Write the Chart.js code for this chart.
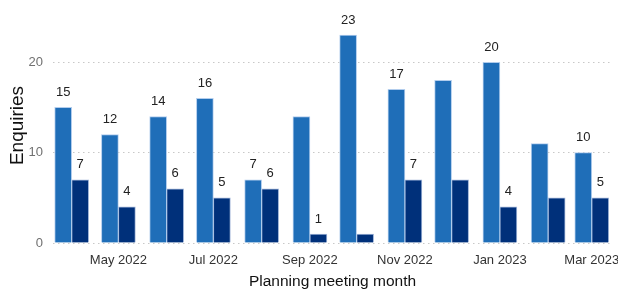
<!DOCTYPE html>
<html>
<head>
<meta charset="utf-8">
<script src="https://cdn.jsdelivr.net/npm/chart.js@4.4.0/dist/chart.umd.min.js"></script>
<style>
  html, body { margin: 0; padding: 0; background: #fff; }
  #wrap { width: 618px; height: 291px; }
</style>
</head>
<body>
<div id="wrap"><canvas id="myChart" width="618" height="291"></canvas></div>
<script>
// months (first day of each month is where the pair of bars sits)
var months = ['2022-04', '2022-05', '2022-06', '2022-07', '2022-08', '2022-09',
              '2022-10', '2022-11', '2022-12', '2023-01', '2023-02', '2023-03'];
var allEnquiries = [15, 12, 14, 16, 7, 14, 23, 17, 18, 20, 11, 10];
var subsetEnquiries = [7, 4, 6, 5, 6, 1, 1, 7, 7, 4, 5, 5];
// which value labels are printed in the picture (1 = shown)
var allLabelShown = [1, 1, 1, 1, 1, 0, 1, 1, 0, 1, 0, 1];
var subsetLabelShown = [1, 1, 1, 1, 1, 1, 0, 1, 0, 1, 0, 1];

var tickMonths = ['2022-05', '2022-07', '2022-09', '2022-11', '2023-01', '2023-03'];
var tickLabels = ['May 2022', 'Jul 2022', 'Sep 2022', 'Nov 2022', 'Jan 2023', 'Mar 2023'];
var yTicks = [0, 10, 20];

// days since 1 Apr 2022
function dayOf(m) {
  var p = m.split('-');
  return (Date.UTC(+p[0], +p[1] - 1, 1) - Date.UTC(2022, 3, 1)) / 86400000;
}

var fontFamily = "'Liberation Sans', Arial, sans-serif";

var valueLabels = {
  id: 'valueLabels',
  afterDatasetsDraw: function (chart) {
    var ctx = chart.ctx;
    var flags = [allLabelShown, subsetLabelShown];
    ctx.save();
    ctx.font = '13px ' + fontFamily;
    ctx.fillStyle = '#222';
    ctx.textAlign = 'center';
    ctx.textBaseline = 'middle';
    chart.data.datasets.forEach(function (ds, di) {
      var meta = chart.getDatasetMeta(di);
      meta.data.forEach(function (bar, i) {
        if (!flags[di][i]) return;
        ctx.fillText(String(ds.data[i].y), bar.x, bar.y - 15);
      });
    });
    ctx.restore();
  }
};

var ctx = document.getElementById('myChart').getContext('2d');
var chart = new Chart(ctx, {
  type: 'bar',
  data: {
    datasets: [
      {
        label: 'All enquiries',
        backgroundColor: '#1f6eb8',
        borderColor: 'rgba(170,200,235,0.9)',
        borderWidth: 1,
        barThickness: 17,
        data: months.map(function (m, i) { return { x: dayOf(m), y: allEnquiries[i] }; })
      },
      {
        label: 'Subset',
        backgroundColor: '#00307a',
        borderColor: 'rgba(120,150,200,0.7)',
        borderWidth: 1,
        barThickness: 17,
        data: months.map(function (m, i) { return { x: dayOf(m), y: subsetEnquiries[i] }; })
      }
    ]
  },
  plugins: [valueLabels],
  options: {
    responsive: false,
    animation: false,
    layout: {
      padding: { left: 0, right: 6, top: 8, bottom: 0 }
    },
    plugins: {
      legend: { display: false },
      tooltip: { enabled: false }
    },
    scales: {
      x: {
        type: 'linear',
        offset: false,
        min: -12,
        max: 347,
        grid: { display: false, drawTicks: false },
        border: { display: false },
        afterBuildTicks: function (scale) {
          scale.ticks = tickMonths.map(function (m) { return { value: dayOf(m) }; });
        },
        afterFit: function (scale) {
          scale.height = 48;
          scale.paddingLeft = 0;
          scale.paddingRight = 0;
        },
        ticks: {
          autoSkip: false,
          maxRotation: 0,
          padding: 10,
          color: '#333',
          font: { family: fontFamily, size: 13 },
          callback: function (v) {
            var idx = tickMonths.map(dayOf).indexOf(v);
            return idx >= 0 ? tickLabels[idx] : '';
          }
        },
        title: {
          display: true,
          text: 'Planning meeting month',
          color: '#111',
          font: { family: fontFamily, size: 15.5 },
          padding: { top: 0, bottom: 0 }
        }
      },
      y: {
        min: 0,
        max: 26,
        afterBuildTicks: function (scale) {
          scale.ticks = yTicks.map(function (v) { return { value: v }; });
        },
        afterFit: function (scale) {
          scale.width = 53;
          scale.paddingTop = 0;
          scale.paddingBottom = 0;
        },
        grid: {
          drawTicks: false,
          color: '#c8c8c8',
          lineWidth: 1
        },
        border: { display: false, dash: [1.5, 3.5] },
        ticks: {
          padding: 10,
          color: '#707070',
          font: { family: fontFamily, size: 13 }
        },
        title: {
          display: true,
          text: 'Enquiries',
          color: '#111',
          font: { family: fontFamily, size: 19 },
          padding: { top: 6, bottom: 0 }
        }
      }
    }
  }
});
</script>
</body>
</html>
